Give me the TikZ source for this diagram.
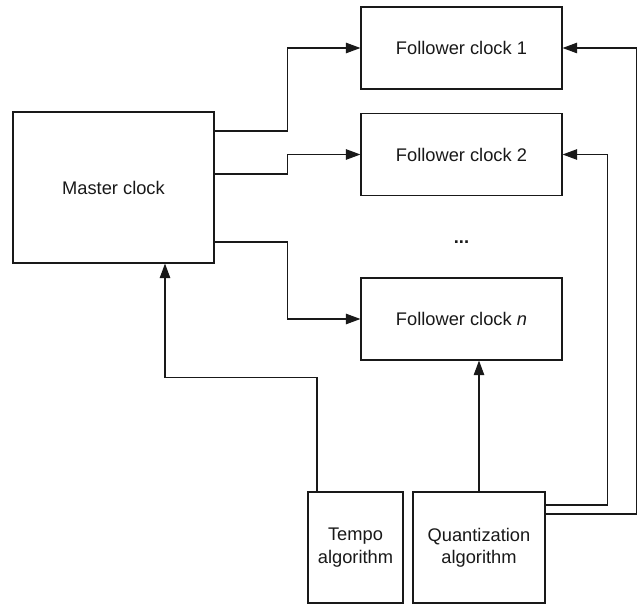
\documentclass[tikz,border=0pt]{standalone}
\usepackage{fontspec}
\setmainfont{Liberation Sans}
\usepackage{tikz}
\usetikzlibrary{positioning,arrows.meta,calc,shadows}

\begin{document}
\begin{tikzpicture}[
  bx/.style={rectangle, draw=black!90, fill=white, line width=0.95pt,
             minimum width=#1, align=center, text=black!90,
             font=\fontsize{15.6}{19}\selectfont,
             drop shadow={opacity=0.25, shadow xshift=0.6pt, shadow yshift=-0.6pt}},
  ar/.style={-{Triangle[length=12.5pt,width=9pt]}, line width=0.95pt, draw=black!90}
]
\useasboundingbox (0,0) rectangle (19.2,18.15);

\node[bx=6.03cm, minimum height=4.53cm] (M)  at (3.405,12.525) {Master clock};
\node[bx=6.03cm, minimum height=2.46cm] (F1) at (13.845,16.71) {Follower clock 1};
\node[bx=6.03cm, minimum height=2.46cm] (F2) at (13.845,13.515) {Follower clock 2};
\node[bx=6.03cm, minimum height=2.46cm] (Fn) at (13.845,8.58) {Follower clock \textit{n}};
\node[font=\fontsize{15.6}{19}\selectfont\bfseries, text=black!90] (dots) at (13.845,10.9) {...};

\node[bx=2.85cm, minimum height=3.33cm] (T) at (10.665,1.725) {Tempo\\algorithm};
\node[bx=3.96cm, minimum height=3.33cm] (Q) at (14.37,1.725) {Quantization\\algorithm};

% master -> followers
\draw[ar] ([yshift=1.695cm]M.east) -- ++(2.19,0) |- (F1.west);
\draw[ar] ([yshift=0.405cm]M.east) -- ++(2.19,0) |- (F2.west);
\draw[ar] ([yshift=-1.635cm]M.east) -- ++(2.19,0) |- (Fn.west);

% algorithms
\draw[ar] ([xshift=-1.155cm]T.north) -- ++(0,3.42) -| ([xshift=1.545cm]M.south);
\draw[ar] (Q.north) -- (Q.north |- Fn.south);
\draw[ar] ([yshift=1.275cm]Q.east) -| ([xshift=1.35cm]F2.east) -- (F2.east);
\draw[ar] ([yshift=1.005cm]Q.east) -| ([xshift=2.22cm]F1.east) -- (F1.east);
\end{tikzpicture}
\end{document}
